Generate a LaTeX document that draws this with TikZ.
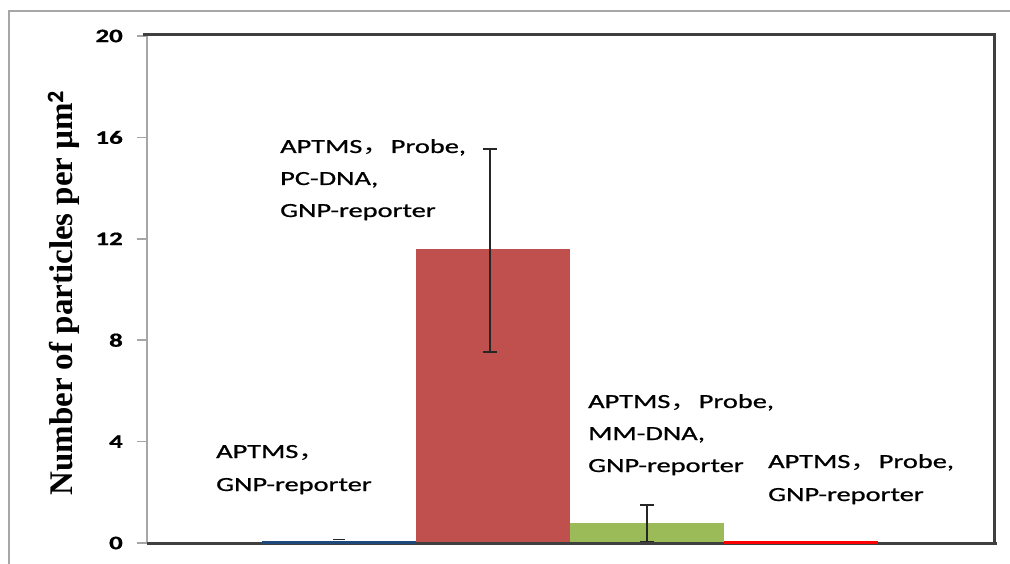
\documentclass[tikz,border=0pt]{standalone}
\usepackage{fontspec}
\usepackage{graphicx}
\setmainfont{Carlito}[FakeBold=0.7]
\newfontfamily\cjk{Noto Sans CJK SC}
\newfontfamily\axisfont{Liberation Serif}
\definecolor{framegray}{HTML}{A6A6A6}
\definecolor{axisdark}{HTML}{3F3F3F}
\definecolor{barred}{HTML}{C0504D}
\definecolor{bargreen}{HTML}{9BBB59}
\definecolor{barblue}{HTML}{1F497D}
\definecolor{linered}{HTML}{FF0000}
% horizontally widened label text
\newcommand{\wide}[1]{\scalebox{1.42}[1]{#1}}
\newcommand{\cm}{{\cjk ，}}
\begin{document}
\begin{tikzpicture}[x=1pt,y=-1pt,
  lbl/.style={anchor=base west, inner sep=0pt, font=\fontsize{20}{24}\selectfont},
  ticklbl/.style={anchor=east, inner sep=0pt, font=\fontsize{19}{22}\selectfont\bfseries},
  tick/.style={framegray, line width=1.5pt},
  errbar/.style={black!85, line width=2pt},
]
\useasboundingbox (0,0) rectangle (1010,564);
\fill[white] (0,0) rectangle (1010,564);
% outer chart border
\draw[framegray, line width=1.2pt] (9,570) -- (9,11) -- (1015,11);

% bars (value v at y = 543 - 25.35 v)
\fill[barred] (416,249.4) rectangle (570,543);
\fill[bargreen] (570,522.7) rectangle (724,543);

% error bars
\draw[errbar] (490,149) -- (490,352);
\draw[errbar] (483,149) -- (497,149);
\draw[errbar] (483,352) -- (497,352);
\draw[errbar] (647,505) -- (647,543);
\draw[errbar] (640,505) -- (654,505);
\draw[errbar] (640,542) -- (654,542);

% axes and plot frame
\draw[framegray, line width=2pt] (147,35) -- (147,543);
\foreach \v in {0,4,8,12,16,20}
  \draw[tick] (137,{543-25.35*\v}) -- (147,{543-25.35*\v});
\draw[axisdark, line width=3pt] (143,35) -- (994,35) -- (994,543);
\draw[axisdark, line width=3pt] (147,543) -- (997,543);

% near-zero bars lie on top of the axis line
\fill[barblue] (262,540.5) rectangle (416,543.5);
\fill[linered] (724,540.5) rectangle (878,544);
\draw[errbar, line width=1.5pt] (333,539.5) -- (345,539.5);

% tick labels
\node[ticklbl] (t0)  at (123,543)   {\wide{0}};
\node[ticklbl] (t4)  at (123,441.6) {\wide{4}};
\node[ticklbl] (t8)  at (123,340.2) {\wide{8}};
\node[ticklbl] (t12) at (123,238.8) {\wide{12}};
\node[ticklbl] (t16) at (123,137.4) {\wide{16}};
\node[ticklbl] (t20) at (123,36)    {\wide{20}};

% axis title
\node[anchor=base, rotate=90, inner sep=0pt,
      font=\axisfont\bfseries\fontsize{33}{36}\selectfont] (ytitle)
  at (72,293) {Number of particles per \textmu m$^{\mathbf{2}}$};

% bar annotations
\node[lbl] (a1) at (216,458) {\wide{APTMS\cm}};
\node[lbl] (a2) at (216,491) {\wide{GNP-reporter}};

\node[lbl] (b1) at (280,153) {\wide{APTMS\cm Probe,}};
\node[lbl] (b2) at (280,185) {\wide{PC-DNA,}};
\node[lbl] (b3) at (280,217) {\wide{GNP-reporter}};

\node[lbl] (c1) at (588,408) {\wide{APTMS\cm Probe,}};
\node[lbl] (c2) at (588,440) {\wide{MM-DNA,}};
\node[lbl] (c3) at (588,472) {\wide{GNP-reporter}};

\node[lbl] (d1) at (768,468) {\wide{APTMS\cm Probe,}};
\node[lbl] (d2) at (768,501) {\wide{GNP-reporter}};
\end{tikzpicture}
\end{document}
